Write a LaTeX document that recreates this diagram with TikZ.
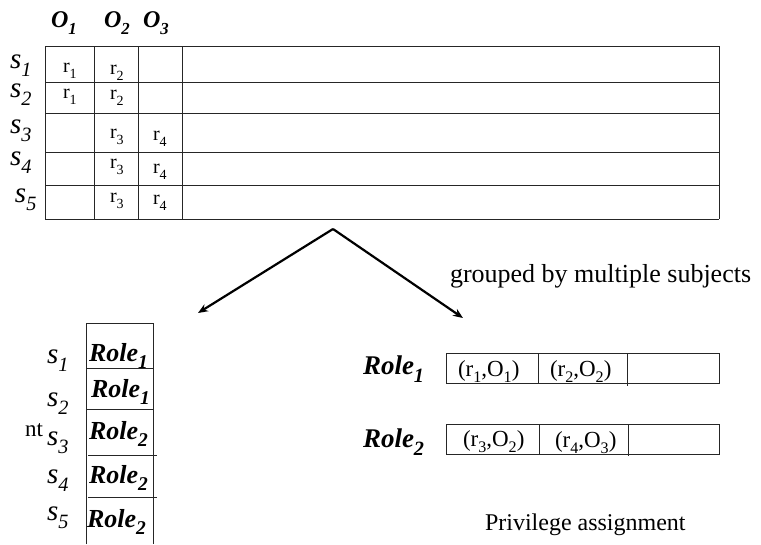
\documentclass[tikz,border=0pt]{standalone}
\usepackage{fontspec}
\usepackage{graphicx}
\setmainfont{Liberation Serif}
\usetikzlibrary{arrows.meta}
\newcommand\lsub[2][0.7]{\raisebox{-0.3em}{\scalebox{#1}{#2}}}
\newcommand\fsz[1]{\fontsize{#1}{#1}\selectfont}
\tikzset{
  lbl/.style={anchor=base west, inner sep=0pt, outer sep=0pt},
  grid/.style={line width=0.9pt, draw=black!85},
  arr/.style={line width=2.2pt, -{Stealth[length=10pt,width=8pt]}},
}
\begin{document}
\begin{tikzpicture}[x=1pt,y=-1pt]
\useasboundingbox (0,0) rectangle (761,544);
% ---------- top matrix ----------
\foreach \yy in {46,82,113,152,185,219} \draw[grid] (45,\yy) -- (719,\yy);
\foreach \xx in {45,94,138,182,719} \draw[grid] (\xx,46) -- (\xx,219);
% column headers
\node[lbl,font=\fsz{24}\bfseries\itshape] (o1) at (51,27) {O\lsub{1}};
\node[lbl,font=\fsz{24}\bfseries\itshape] (o2) at (104,27) {O\lsub{2}};
\node[lbl,font=\fsz{24}\bfseries\itshape] (o3) at (143,27) {O\lsub{3}};
% row labels
\node[lbl,font=\fsz{29}\itshape] (ts1) at (10,68) {s\lsub{1}};
\node[lbl,font=\fsz{29}\itshape] (ts2) at (10,97) {s\lsub{2}};
\node[lbl,font=\fsz{29}\itshape] (ts3) at (10,133) {s\lsub{3}};
\node[lbl,font=\fsz{29}\itshape] (ts4) at (10,165) {s\lsub{4}};
\node[lbl,font=\fsz{29}\itshape] (ts5) at (15,202) {s\lsub{5}};
% cells
\node[lbl,font=\fsz{20}] (c11) at (63,72) {r\lsub{1}};
\node[lbl,font=\fsz{20}] (c12) at (110,74) {r\lsub{2}};
\node[lbl,font=\fsz{20}] (c21) at (63,98) {r\lsub{1}};
\node[lbl,font=\fsz{20}] (c22) at (110,99) {r\lsub{2}};
\node[lbl,font=\fsz{20}] (c32) at (110,138) {r\lsub{3}};
\node[lbl,font=\fsz{20}] (c33) at (153,140) {r\lsub{4}};
\node[lbl,font=\fsz{20}] (c42) at (110,168) {r\lsub{3}};
\node[lbl,font=\fsz{20}] (c43) at (153,173) {r\lsub{4}};
\node[lbl,font=\fsz{20}] (c52) at (110,202) {r\lsub{3}};
\node[lbl,font=\fsz{20}] (c53) at (153,204) {r\lsub{4}};
% ---------- arrows ----------
\coordinate (apex) at (333,229);
\coordinate (ltip) at (198,313);
\coordinate (rtip) at (463,318);
\draw[arr] (apex) -- (ltip);
\draw[arr] (apex) -- (rtip);
\node[lbl,font=\fsz{26}] (grp) at (450,282) {grouped by multiple subjects};
% ---------- left: subject-role column ----------
\draw[grid] (86,544) -- (86,323) -- (153,323) -- (153,544);
\draw[grid] (86,368) -- (153,368);
\draw[grid] (86,409) -- (153,409);
\draw[grid] (88,455) -- (157,455);
\draw[grid] (88,497) -- (157,497);
\node[lbl,font=\fsz{29}\itshape] (ls1) at (47,363) {s\lsub{1}};
\node[lbl,font=\fsz{29}\itshape] (ls2) at (47,406) {s\lsub{2}};
\node[lbl,font=\fsz{29}\itshape] (ls3) at (47,445) {s\lsub{3}};
\node[lbl,font=\fsz{29}\itshape] (ls4) at (47,483) {s\lsub{4}};
\node[lbl,font=\fsz{29}\itshape] (ls5) at (47,520) {s\lsub{5}};
\node[lbl,font=\fsz{26}\bfseries\itshape] (lr1) at (89,361) {Role\lsub[0.75]{1}};
\node[lbl,font=\fsz{26}\bfseries\itshape] (lr2) at (91,397) {Role\lsub[0.75]{1}};
\node[lbl,font=\fsz{26}\bfseries\itshape] (lr3) at (89,439) {Role\lsub[0.75]{2}};
\node[lbl,font=\fsz{26}\bfseries\itshape] (lr4) at (89,483) {Role\lsub[0.75]{2}};
\node[lbl,font=\fsz{26}\bfseries\itshape] (lr5) at (87,527) {Role\lsub[0.75]{2}};
\node[lbl,font=\fsz{23}] (nt) at (25,436) {nt};
% ---------- right: privilege assignment ----------
\draw[grid] (446,353) rectangle (719,383);
\draw[grid] (538,353) -- (538,383);
\draw[grid] (627,353) -- (627,386);
\draw[grid] (446.5,424) rectangle (719,454);
\draw[grid] (539,424) -- (539,454);
\draw[grid] (628,424) -- (628,456);
\node[lbl,font=\fsz{27}\bfseries\itshape] (rr1) at (363,374) {Role\lsub[0.75]{1}};
\node[lbl,font=\fsz{27}\bfseries\itshape] (rr2) at (363,447) {Role\lsub[0.75]{2}};
\node[lbl,font=\fsz{23}] (p11) at (458,376) {(r\lsub{1},O\lsub{1})};
\node[lbl,font=\fsz{23}] (p12) at (550,376) {(r\lsub{2},O\lsub{2})};
\node[lbl,font=\fsz{23}] (p21) at (463,446) {(r\lsub{3},O\lsub{2})};
\node[lbl,font=\fsz{23}] (p22) at (555,447) {(r\lsub{4},O\lsub{3})};
\node[lbl,font=\fsz{24}] (priv) at (485,530) {Privilege assignment};
\end{tikzpicture}
\end{document}
